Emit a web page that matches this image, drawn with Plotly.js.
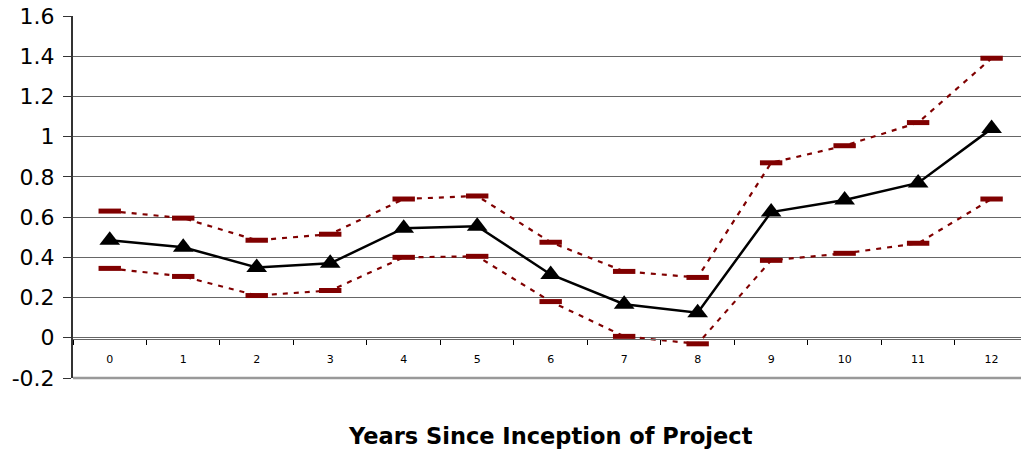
<!DOCTYPE html>
<html>
<head>
<meta charset="utf-8">
<script src="https://cdn.plot.ly/plotly-3.0.1.min.js"></script>
<style>html,body{margin:0;padding:0;background:#fff;}#chart{width:1021px;height:450px;}</style>
</head>
<body>
<div id="chart"></div>
<script>
const years = ['0','1','2','3','4','5','6','7','8','9','10','11','12'];
const estimate = [0.485, 0.45, 0.35, 0.37, 0.545, 0.555, 0.315, 0.167, 0.125, 0.625, 0.685, 0.77, 1.04];
const upperBound = [0.63, 0.595, 0.485, 0.515, 0.69, 0.705, 0.475, 0.33, 0.30, 0.87, 0.955, 1.07, 1.39];
const lowerBound = [0.345, 0.305, 0.21, 0.235, 0.40, 0.405, 0.18, 0.007, -0.03, 0.385, 0.42, 0.47, 0.69];
const yTickVals = [-0.2, 0, 0.2, 0.4, 0.6, 0.8, 1, 1.2, 1.4, 1.6];
const yTickText = ['-0.2', '0', '0.2', '0.4', '0.6', '0.8', '1', '1.2', '1.4', '1.6'];
const xTitle = 'Years Since Inception of Project';

const boundStyle = {
  mode: 'lines+markers',
  line: {color: '#800000', width: 2.2, dash: '5px,6px'},
  marker: {symbol: 'line-ew', size: 16, color: '#800000', line: {color: '#800000', width: 5}},
  hoverinfo: 'skip', showlegend: false
};

const traces = [
  Object.assign({x: years, y: upperBound, type: 'scatter'}, boundStyle),
  Object.assign({x: years, y: lowerBound, type: 'scatter'}, boundStyle),
  {
    x: years, y: estimate, type: 'scatter', mode: 'lines+markers',
    line: {color: '#000000', width: 2.5},
    marker: {symbol: 'triangle-up', size: 18, color: '#000000'},
    showlegend: false
  }
];

const layout = {
  width: 1021, height: 450,
  margin: {l: 73, r: 0, t: 16, b: 72, pad: 0},
  paper_bgcolor: '#ffffff', plot_bgcolor: '#ffffff',
  font: {family: 'DejaVu Sans, Liberation Sans, Arial, sans-serif', color: '#000'},
  xaxis: {
    type: 'category',
    range: [-0.5, 12.4],
    anchor: 'free', position: 0.109,
    showgrid: false, zeroline: false,
    showline: true, linecolor: '#666', linewidth: 1,
    ticks: 'outside', tickson: 'boundaries', ticklen: 5, tickcolor: '#000', tickwidth: 1,
    ticklabelstandoff: 10,
    tickfont: {size: 11, color: '#000'}
  },
  yaxis: {
    range: [-0.2, 1.6],
    tickvals: yTickVals, ticktext: yTickText,
    showgrid: true, gridcolor: '#666', gridwidth: 1,
    zeroline: false,
    showline: true, linecolor: '#333', linewidth: 2,
    ticks: 'outside', ticklen: 8, tickcolor: '#333', tickwidth: 1,
    ticklabelstandoff: 4,
    tickfont: {size: 22, color: '#000'}
  },
  shapes: [
    {type: 'line', xref: 'paper', yref: 'paper', x0: 0, x1: 1, y0: 0, y1: 0, line: {color: '#999', width: 2.5}}
  ],
  annotations: [
    {text: '<b>' + xTitle + '</b>', xref: 'paper', yref: 'paper', x: 0.504, y: 0, yshift: -58,
     xanchor: 'center', yanchor: 'middle', showarrow: false, font: {size: 22.5, color: '#000'}}
  ]
};

Plotly.newPlot('chart', traces, layout, {displayModeBar: false, staticPlot: true});
</script>
</body>
</html>
